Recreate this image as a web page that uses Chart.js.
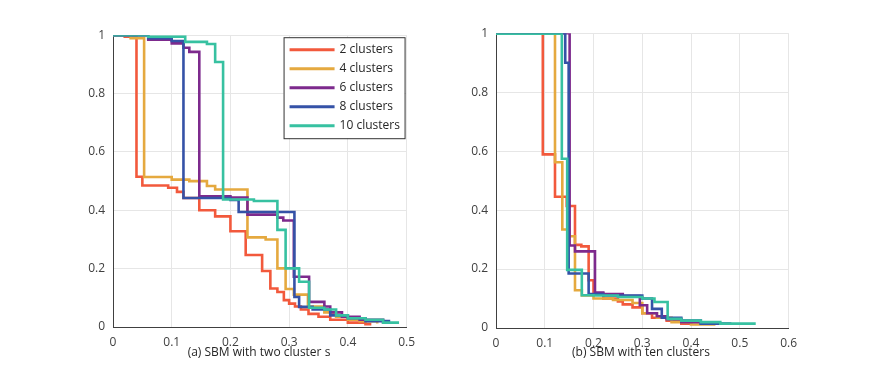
<!DOCTYPE html>
<html>
<head>
<meta charset="utf-8">
<script src="https://cdn.jsdelivr.net/npm/chart.js@4.4.1/dist/chart.umd.min.js"></script>
<style>
  body { margin: 0; background: #fff; width: 872px; height: 374px; position: relative; overflow: hidden; font-family: "Open Sans", sans-serif; }
  .box { position: absolute; }
  .caption { position: absolute; top: 343px; font-size: 12px; color: #262626; text-align: center; width: 300px; }
</style>
</head>
<body>
<div class="box" id="left-box" style="left:73px; top:20px; width:350px; height:332px;"><canvas id="left-chart"></canvas></div>
<div class="box" id="right-box" style="left:456px; top:18px; width:349px; height:335px;"><canvas id="right-chart"></canvas></div>
<div class="caption" style="left:109px;">(a) SBM with two cluster s</div>
<div class="caption" style="left:491px;">(b) SBM with ten clusters</div>
<script>
const seriesNames = ["2 clusters", "4 clusters", "6 clusters", "8 clusters", "10 clusters"];
const seriesColors = ["#f2593c", "#e5a93f", "#7d2a8d", "#3552a7", "#37c1a1"];

const yTicks = [0, 0.2, 0.4, 0.6, 0.8, 1];
const leftXTicks = [0, 0.1, 0.2, 0.3, 0.4, 0.5];
const rightXTicks = [0, 0.1, 0.2, 0.3, 0.4, 0.5, 0.6];

// (a) SBM with two clusters
const a2x = [0, 0.02, 0.04, 0.05, 0.094, 0.109, 0.12, 0.147, 0.174, 0.2, 0.226, 0.254, 0.268, 0.28, 0.291, 0.3, 0.31, 0.32, 0.333, 0.35, 0.37, 0.4, 0.43, 0.44];
const a2y = [1, 0.995, 0.515, 0.485, 0.477, 0.463, 0.442, 0.4, 0.379, 0.328, 0.247, 0.192, 0.132, 0.12, 0.092, 0.08, 0.07, 0.06, 0.045, 0.035, 0.025, 0.015, 0.01, 0.01];
const a4x = [0, 0.03, 0.053, 0.1, 0.13, 0.16, 0.174, 0.229, 0.26, 0.28, 0.294, 0.308, 0.332, 0.36, 0.38, 0.4, 0.42, 0.45];
const a4y = [1, 0.99, 0.514, 0.505, 0.5, 0.483, 0.471, 0.307, 0.3, 0.201, 0.13, 0.111, 0.07, 0.05, 0.035, 0.025, 0.02, 0.012];
const a6x = [0, 0.06, 0.1, 0.12, 0.13, 0.147, 0.2, 0.229, 0.28, 0.29, 0.308, 0.334, 0.36, 0.37, 0.39, 0.42, 0.46];
const a6y = [1, 0.985, 0.972, 0.957, 0.943, 0.448, 0.444, 0.385, 0.375, 0.365, 0.172, 0.086, 0.07, 0.05, 0.035, 0.025, 0.012];
const a8x = [0, 0.06, 0.1, 0.12, 0.2, 0.214, 0.309, 0.317, 0.34, 0.37, 0.4, 0.43, 0.47];
const a8y = [1, 0.99, 0.98, 0.442, 0.435, 0.394, 0.103, 0.069, 0.06, 0.04, 0.03, 0.02, 0.012];
const a10x = [0, 0.06, 0.123, 0.16, 0.174, 0.1875, 0.24, 0.28, 0.294, 0.317, 0.334, 0.36, 0.38, 0.4, 0.43, 0.46, 0.485];
const a10y = [1, 0.995, 0.977, 0.97, 0.908, 0.437, 0.432, 0.333, 0.201, 0.155, 0.066, 0.06, 0.04, 0.03, 0.025, 0.015, 0.01];

// (b) SBM with ten clusters
const b2x = [0, 0.096, 0.121, 0.145, 0.162, 0.175, 0.19, 0.2, 0.22, 0.25, 0.26, 0.28, 0.3, 0.32, 0.35, 0.38, 0.4];
const b2y = [1, 0.589, 0.445, 0.414, 0.282, 0.277, 0.162, 0.117, 0.1, 0.09, 0.08, 0.07, 0.05, 0.035, 0.025, 0.015, 0.01];
const b4x = [0, 0.121, 0.136, 0.15, 0.162, 0.176, 0.2, 0.24, 0.28, 0.3, 0.33, 0.36, 0.4, 0.45];
const b4y = [1, 0.562, 0.334, 0.311, 0.128, 0.11, 0.1, 0.095, 0.085, 0.05, 0.035, 0.02, 0.012, 0.01];
const b6x = [0, 0.151, 0.162, 0.203, 0.22, 0.26, 0.295, 0.31, 0.33, 0.35, 0.38, 0.42, 0.46];
const b6y = [1, 0.28, 0.26, 0.12, 0.115, 0.108, 0.077, 0.05, 0.04, 0.03, 0.02, 0.015, 0.01];
const b8x = [0, 0.142, 0.149, 0.19, 0.22, 0.3, 0.32, 0.34, 0.38, 0.42, 0.48];
const b8y = [1, 0.9, 0.185, 0.115, 0.11, 0.1, 0.065, 0.035, 0.025, 0.015, 0.01];
const b10x = [0, 0.135, 0.146, 0.176, 0.2, 0.25, 0.3, 0.325, 0.352, 0.38, 0.42, 0.46, 0.53];
const b10y = [0.998, 0.574, 0.197, 0.111, 0.11, 0.105, 0.1, 0.088, 0.031, 0.025, 0.02, 0.015, 0.01];

const leftSeries = [[a2x, a2y], [a4x, a4y], [a6x, a6y], [a8x, a8y], [a10x, a10y]];
const rightSeries = [[b2x, b2y], [b4x, b4y], [b6x, b6y], [b8x, b8y], [b10x, b10y]];

function buildDatasets(series) {
  return series.map((s, i) => ({
    label: seriesNames[i],
    data: s[0].map((x, j) => ({ x: x, y: s[1][j] })),
    borderColor: seriesColors[i],
    backgroundColor: seriesColors[i],
    borderWidth: 2.6,
    pointRadius: 0,
    stepped: true,
    fill: false,
    order: 4 - i
  }));
}

// legend box drawn inside the left plot
const boxLegend = {
  id: "boxLegend",
  afterDraw(chart) {
    if (!chart.options.plugins.boxLegend.show) return;
    const ctx = chart.ctx;
    const area = chart.chartArea;
    const left = area.right - 123, top = area.top + 2, w = 121, h = 101;
    ctx.save();
    ctx.fillStyle = "#fff";
    ctx.fillRect(left, top, w, h);
    ctx.strokeStyle = "#333";
    ctx.lineWidth = 1;
    ctx.strokeRect(left + 0.5, top + 0.5, w, h);
    ctx.font = "12px 'Open Sans', sans-serif";
    ctx.textBaseline = "middle";
    seriesNames.forEach((name, i) => {
      const y = top + 12.5 + i * 19;
      ctx.strokeStyle = seriesColors[i];
      ctx.lineWidth = 3;
      ctx.beginPath();
      ctx.moveTo(left + 6, y);
      ctx.lineTo(left + 51, y);
      ctx.stroke();
      ctx.fillStyle = "#262626";
      ctx.fillText(name, left + 56, y);
    });
    ctx.restore();
  }
};

function makeChart(canvas, series, xTicks, xMax, showLegend) {
  return new Chart(canvas, {
    type: "line",
    data: { datasets: buildDatasets(series) },
    plugins: [boxLegend],
    options: {
      responsive: true,
      maintainAspectRatio: false,
      animation: false,
      layout: { padding: { top: 10, right: 10, left: 0, bottom: 0 } },
      scales: {
        x: {
          type: "linear",
          min: 0,
          max: xMax,
          afterBuildTicks: axis => { axis.ticks = xTicks.map(v => ({ value: v })); },
          afterFit: axis => { axis.height = 25; },
          grid: { color: "#e6e6e6", drawTicks: false },
          border: { color: "#404040", width: 1 },
          ticks: {
            padding: 8,
            color: "#404040",
            font: { family: "'Open Sans', sans-serif", size: 12 },
            maxRotation: 0,
            callback: v => String(v)
          }
        },
        y: {
          min: 0,
          max: 1,
          afterBuildTicks: axis => { axis.ticks = yTicks.map(v => ({ value: v })); },
          afterFit: axis => { axis.width = 40; },
          grid: { color: "#e6e6e6", drawTicks: false },
          border: { color: "#404040", width: 1 },
          ticks: {
            padding: 8,
            color: "#404040",
            font: { family: "'Open Sans', sans-serif", size: 12 },
            callback: v => String(v)
          }
        }
      },
      plugins: {
        legend: { display: false },
        tooltip: { enabled: false },
        boxLegend: { show: showLegend }
      }
    }
  });
}

makeChart(document.querySelector("#left-chart"), leftSeries, leftXTicks, 0.5, true);
makeChart(document.querySelector("#right-chart"), rightSeries, rightXTicks, 0.6, false);
</script>
</body>
</html>
